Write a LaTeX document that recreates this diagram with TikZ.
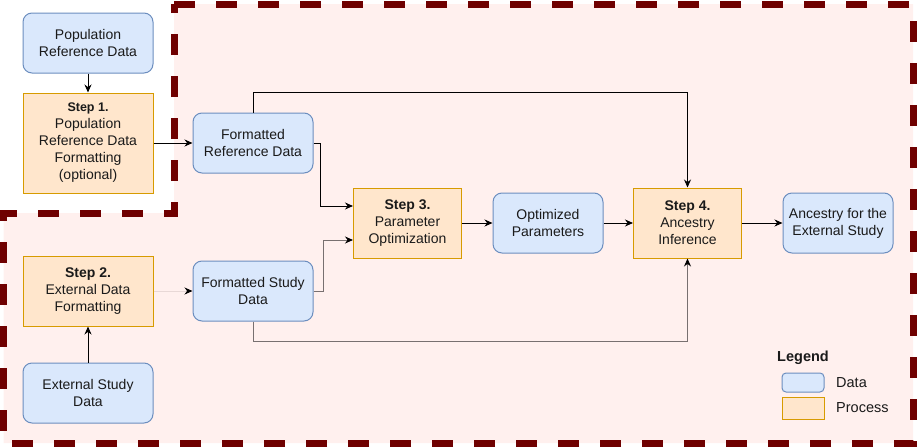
\documentclass[tikz,border=0pt]{standalone}
\usepackage{fontspec}
\setmainfont{Liberation Sans}
\usetikzlibrary{arrows.meta}
\definecolor{databg}{RGB}{218,232,252}
\definecolor{dataline}{RGB}{108,142,191}
\definecolor{procbg}{RGB}{255,230,204}
\definecolor{procline}{RGB}{215,155,0}
\definecolor{zonebg}{RGB}{255,240,238}
\definecolor{zoneline}{RGB}{111,0,0}
\definecolor{txt}{RGB}{26,26,26}
\definecolor{greyline}{RGB}{120,112,112}
\definecolor{faintline}{RGB}{232,216,214}
\tikzset{
  base/.style={align=center, text=txt, font=\fontsize{14}{17}\selectfont, inner sep=0pt},
  databox/.style={base, draw=dataline, fill=databg, rounded corners=9pt, line width=1pt},
  procbox/.style={base, draw=procline, fill=procbg, line width=1pt},
  conn/.style={draw=black, line width=1pt, -{Stealth[length=8pt,width=7pt]}},
  gconn/.style={draw=greyline, line width=1pt, -{Stealth[length=8pt,width=7pt,black]}},
}
\begin{document}
\begin{tikzpicture}[x=1pt,y=-1pt]
\useasboundingbox (0,0) rectangle (917,447);
% zone
\draw[zoneline, fill=zonebg, line width=7pt, dash pattern=on 21pt off 21pt]
  (174,4) -- (913,4) -- (913,443) -- (3.5,443) -- (3.5,213) -- (174,213) -- cycle;

% nodes
\node[databox, minimum width=130pt, minimum height=60pt] (popref) at (88,43) {Population\\Reference Data};
\node[procbox, minimum width=130pt, minimum height=100pt] (step1) at (88,143)
  {{\fontsize{12.5}{16.7}\selectfont\bfseries Step 1.}\\Population\\Reference Data\\Formatting\\(optional)};
\node[databox, minimum width=120pt, minimum height=60pt] (formref) at (253,143) {Formatted\\Reference Data};
\node[procbox, minimum width=130pt, minimum height=70pt] (step2) at (88,291)
  {\textbf{Step 2.}\\External Data\\Formatting};
\node[databox, minimum width=130pt, minimum height=60pt] (extstudy) at (88,393) {External Study\\Data};
\node[databox, minimum width=120pt, minimum height=60pt] (formstudy) at (253,291) {Formatted Study\\Data};
\node[procbox, minimum width=108pt, minimum height=70pt] (step3) at (407.5,223)
  {\textbf{Step 3.}\\Parameter\\Optimization};
\node[databox, minimum width=110pt, minimum height=60pt] (optparam) at (548,223) {Optimized\\Parameters};
\node[procbox, minimum width=108pt, minimum height=70pt] (step4) at (687.5,223)
  {\textbf{Step 4.}\\Ancestry\\Inference};
\node[databox, minimum width=110pt, minimum height=60pt] (ancestry) at (838,223) {Ancestry for the\\External Study};

% connectors
\draw[conn] (popref) -- (step1);
\draw[conn] (step1) -- (formref);
\draw[conn] (extstudy) -- (step2);
\draw[draw=faintline, line width=1pt, -{Stealth[length=8pt,width=7pt,black]}] (step2.east |- formstudy) -- (formstudy.west);
\draw[conn] (formref.north) -- ++(0,-20) -| (step4.north);
\draw[conn] (formref.east) -- ++(7,0) |- ([yshift=17pt]step3.west);
\draw[gconn] (formstudy.east) -- ++(10,0) |- ([yshift=-17pt]step3.west);
\draw[gconn] (formstudy.south) -- ++(0,20) -| (step4.south);
\draw[conn] (step3) -- (optparam);
\draw[conn] (optparam) -- (step4);
\draw[conn] (step4) -- (ancestry);

% legend
\node[base, font=\fontsize{14.5}{17}\selectfont\bfseries] (legtitle) at (803,358) {Legend};
\node[databox, rounded corners=4pt, minimum width=42pt, minimum height=19pt] (legdata) at (803,382.5) {};
\node[procbox, minimum width=42pt, minimum height=22pt] (legproc) at (803,408) {};
\node[base, anchor=west, font=\fontsize{14.5}{17}\selectfont] (legdatat) at (836,382.5) {Data};
\node[base, anchor=west, font=\fontsize{14.5}{17}\selectfont] (legproct) at (836,408) {Process};
\end{tikzpicture}
\end{document}
